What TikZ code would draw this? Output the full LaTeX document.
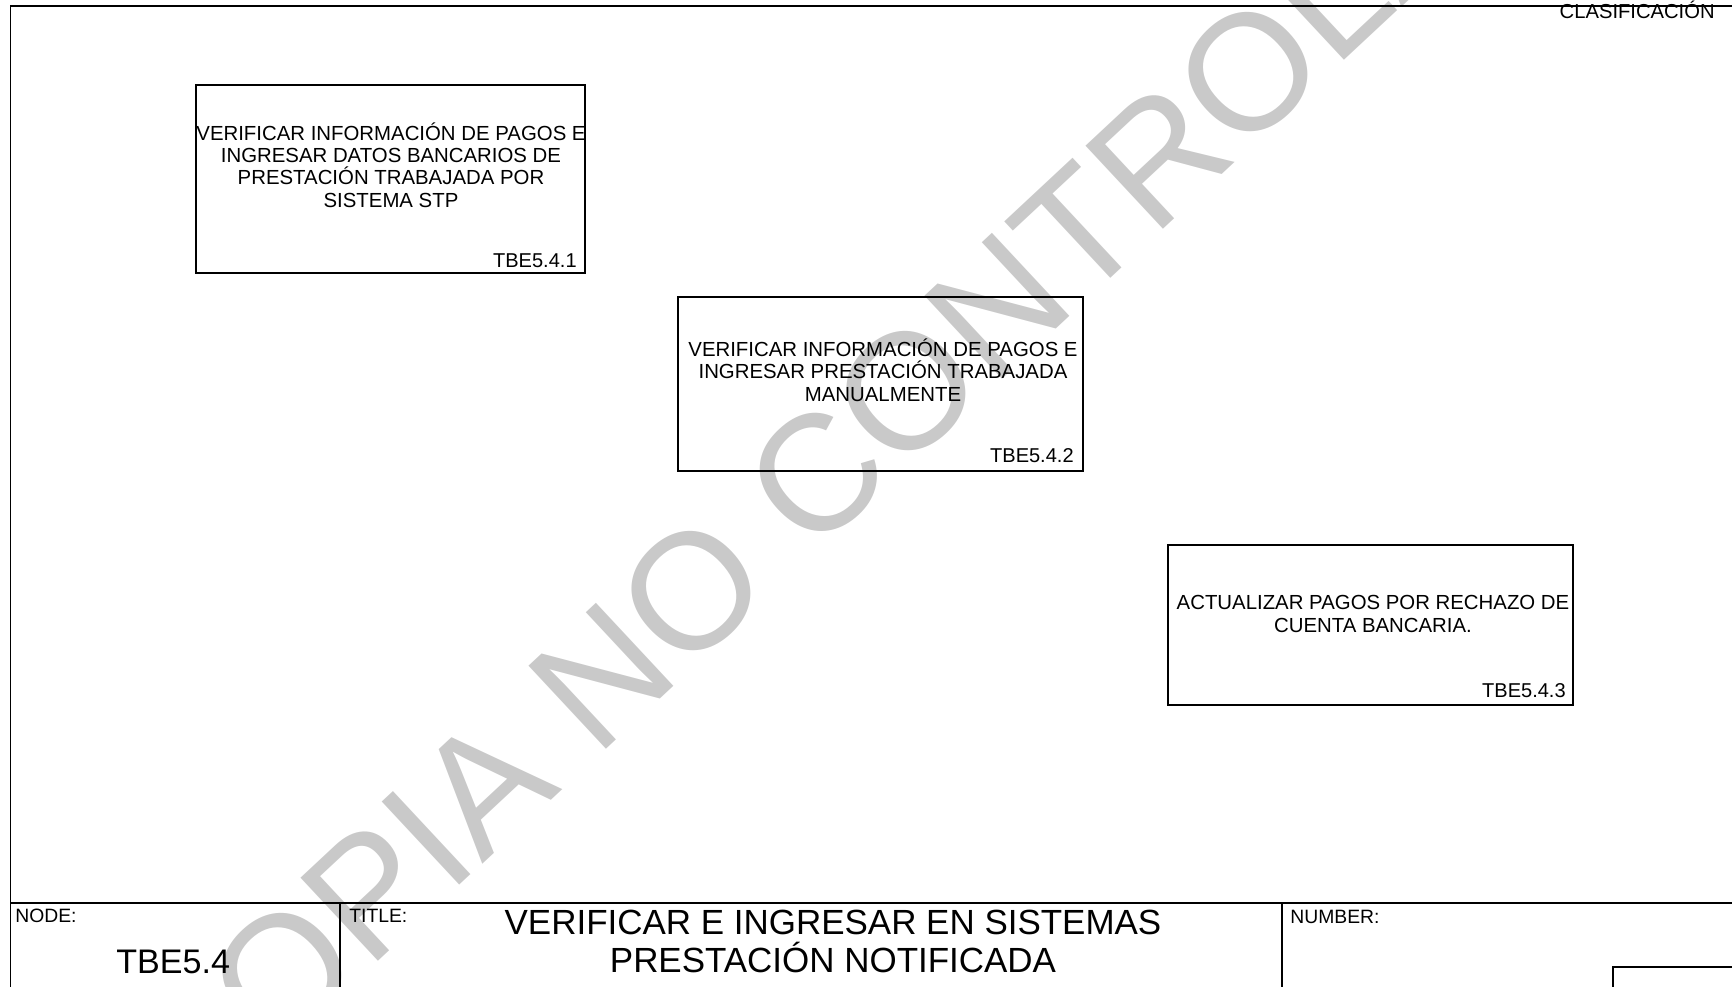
\documentclass[tikz,border=0pt]{standalone}
\usepackage{fontspec}
\setmainfont{Liberation Sans}
\usetikzlibrary{positioning}

\begin{document}
\begin{tikzpicture}[x=0.02cm,y=-0.02cm,
  actbox/.style={draw, line width=1.6pt, inner sep=0pt},
  acttxt/.style={align=center, font=\fontsize{11.6}{12.7}\selectfont},
  actid/.style={anchor=base east, inner sep=0pt, font=\fontsize{11.4}{12}\selectfont},
  lbl/.style={anchor=base west, inner sep=0pt, font=\fontsize{11}{12}\selectfont},
  frm/.style={line width=1.1pt}]
\useasboundingbox (0,0) rectangle (1732,987);
\clip (0,0) rectangle (1732,987);

% watermark, behind everything
\node[text=black!21, rotate=43, font=\fontsize{94}{100}\selectfont] (wm) at (880,416) {COPIA NO CONTROLADA};

% frame
\coordinate (tl) at (10.5,5.7);
\coordinate (tr) at (1740,5.7);
\coordinate (bl) at (10.5,995);
\coordinate (ml) at (10.5,903);
\coordinate (mr) at (1740,903);
\draw[frm] (bl) -- (tl) -- (tr);
\draw[frm] (ml) -- (mr);
\draw[frm] (340,903) -- (340,995);
\draw[frm] (1282,903) -- (1282,995);
\draw[frm] (1740,967) -- (1613,967) -- (1613,995);

\node[anchor=base east, inner sep=0pt, font=\fontsize{11.5}{12}\selectfont] (clas) at (1715,18) {CLASIFICACIÓN};

% activity boxes
\node[actbox, minimum width=7.78cm, minimum height=3.76cm] (a1) at (390.5,179) {};
\node[acttxt] (t1) at (391,165) {VERIFICAR INFORMACIÓN DE PAGOS E\\INGRESAR DATOS BANCARIOS DE\\PRESTACIÓN TRABAJADA POR\\SISTEMA STP};
\node[actid] (n1) at (577,267) {TBE5.4.1};

\node[actbox, minimum width=8.10cm, minimum height=3.48cm] (a2) at (880.5,384) {};
\node[acttxt] (t2) at (883,370) {VERIFICAR INFORMACIÓN DE PAGOS E\\INGRESAR PRESTACIÓN TRABAJADA\\MANUALMENTE};
\node[actid] (n2) at (1074,462) {TBE5.4.2};

\node[actbox, minimum width=8.10cm, minimum height=3.20cm] (a3) at (1370.5,625) {};
\node[acttxt] (t3) at (1373,614) {ACTUALIZAR PAGOS POR RECHAZO DE\\CUENTA BANCARIA.};
\node[actid] (n3) at (1566,697) {TBE5.4.3};

% title block
\node[lbl] (nodelbl) at (15,922) {NODE:};
\node[anchor=base west, inner sep=0pt, font=\fontsize{19.4}{22}\selectfont] (nodeval) at (116,973) {TBE5.4};
\node[lbl] (titlelbl) at (349,922) {TITLE:};
\node[align=center, font=\fontsize{19.9}{21.6}\selectfont] (titleval) at (833,941.5) {VERIFICAR E INGRESAR EN SISTEMAS\\PRESTACIÓN NOTIFICADA};
\node[lbl] (numlbl) at (1290,923) {NUMBER:};

\end{tikzpicture}
\end{document}
